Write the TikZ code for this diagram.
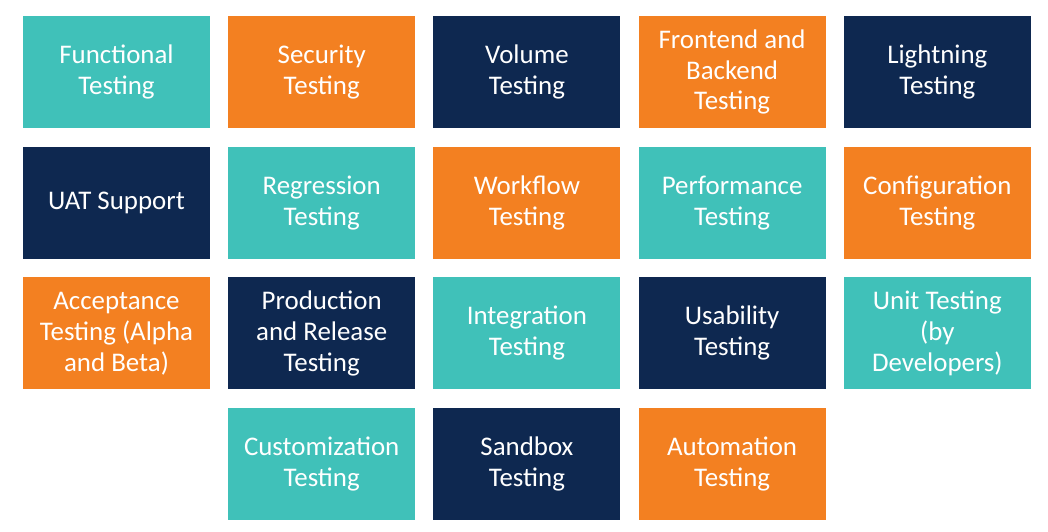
\documentclass[tikz,border=0pt]{standalone}
\usepackage{fontspec}
\setmainfont{Carlito}
\usetikzlibrary{positioning}

\definecolor{tealbox}{RGB}{64,193,185}
\definecolor{orangebox}{RGB}{243,128,33}
\definecolor{navybox}{RGB}{14,40,80}

\begin{document}
\begin{tikzpicture}[
    x=1bp, y=1bp,
    node distance=18.7bp and 18.2bp,
    every node/.style={align=center},
    tile/.style={rectangle, minimum width=187bp, minimum height=112bp, inner sep=0pt, outer sep=0pt,
        text=white, font=\fontsize{27}{31}\selectfont},
    tl/.style={tile, fill=tealbox},
    og/.style={tile, fill=orangebox},
    nv/.style={tile, fill=navybox}
]
\useasboundingbox (0,0) rectangle (1048,-532);
% row 1
\node[tl] (functional) at (116.5,-72) {Functional\\Testing};
\node[og, right=of functional] (security) {Security\\Testing};
\node[nv, right=of security] (volume) {Volume\\Testing};
\node[og, right=of volume] (frontback) {Frontend and\\Backend\\Testing};
\node[nv, right=of frontback] (lightning) {Lightning\\Testing};
% row 2
\node[nv, below=of functional] (uat) {UAT Support};
\node[tl, right=of uat] (regression) {Regression\\Testing};
\node[og, right=of regression] (workflow) {Workflow\\Testing};
\node[tl, right=of workflow] (performance) {Performance\\Testing};
\node[og, right=of performance] (config) {Configuration\\Testing};
% row 3
\node[og, below=of uat] (acceptance) {Acceptance\\Testing (Alpha\\and Beta)};
\node[nv, right=of acceptance] (production) {Production\\and Release\\Testing};
\node[tl, right=of production] (integration) {Integration\\Testing};
\node[nv, right=of integration] (usability) {Usability\\Testing};
\node[tl, right=of usability] (unit) {Unit Testing\\(by\\Developers)};
% row 4
\node[tl, below=of production] (customization) {Customization\\Testing};
\node[nv, right=of customization] (sandbox) {Sandbox\\Testing};
\node[og, right=of sandbox] (automation) {Automation\\Testing};
\end{tikzpicture}
\end{document}
